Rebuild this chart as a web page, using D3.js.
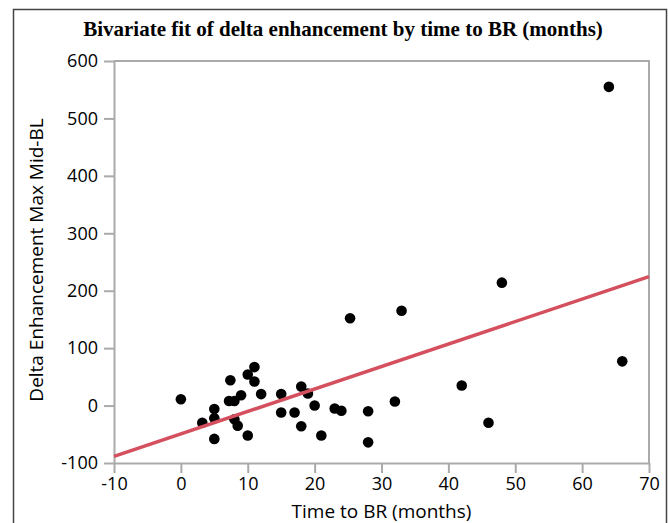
<!DOCTYPE html>
<html>
<head>
<meta charset="utf-8">
<script src="https://cdn.jsdelivr.net/npm/d3@7"></script>
<style>
  body { margin: 0; background: #fff; }
  svg text { fill: #000; }
</style>
</head>
<body>
<div id="chart"></div>
<script>
// Time to BR (months) vs delta enhancement
var timeToBR = [0, 3.2, 5, 5, 5, 7.4, 7.2, 8, 8, 8.5, 9, 10, 10, 11, 11, 12,
                15, 15, 17, 18, 18, 19, 20, 21, 23, 24, 25.3, 28, 28, 32, 33,
                42, 46, 48, 64, 66];
var deltaEnh = [11, -30, -6, -22, -58, 44, 8, 8, -24, -35, 18, 54, -52, 67, 42, 20,
                20, -12, -12, 33, -36, 21, 0, -52, -5, -9, 152, -10, -64, 7, 165,
                35, -30, 214, 555, 77];
var fitX = [-10, 70];
var fitY = [-88.5, 224.5];
var xTicks = [-10, 0, 10, 20, 30, 40, 50, 60, 70];
var yTicks = [-100, 0, 100, 200, 300, 400, 500, 600];

var W = 669, H = 523,
    pLeft = 114, pRight = 649, pTop = 61, pBottom = 463;

var svg = d3.select("#chart").append("svg")
    .attr("width", W).attr("height", H);

//---- outer frame
svg.append("rect")
    .attr("x", 13.5).attr("y", 9.5)
    .attr("width", 653).attr("height", 530)
    .attr("fill", "none").attr("stroke", "#444").attr("stroke-width", 1.5);

var x = d3.scaleLinear().domain([-10, 70]).range([pLeft, pRight]);
var y = d3.scaleLinear().domain([-100, 600]).range([pBottom, pTop]);

//---- plot box (top and right)
svg.append("path")
    .attr("d", "M" + pLeft + "," + pTop + "H" + pRight + "V" + pBottom)
    .attr("fill", "none").attr("stroke", "#aaa").attr("stroke-width", 2);

var axisFont = "'Open Sans', 'Noto Sans', sans-serif";
var fmt = function (d) { return String(d); };

var gx = svg.append("g").attr("transform", "translate(0," + pBottom + ")")
    .call(d3.axisBottom(x).tickValues(xTicks).tickFormat(fmt)
          .tickSize(10).tickSizeOuter(0).tickPadding(4));
var gy = svg.append("g").attr("transform", "translate(" + pLeft + ",0)")
    .call(d3.axisLeft(y).tickValues(yTicks).tickFormat(fmt)
          .tickSize(10).tickSizeOuter(0).tickPadding(6));

[gx, gy].forEach(function (g) {
  g.selectAll(".domain, line").attr("stroke", "#aaa").attr("stroke-width", 2);
  g.selectAll("text").attr("font-family", axisFont).attr("font-size", 18)
    .attr("fill", "#000");
});

//---- points
svg.append("g").selectAll("circle")
    .data(timeToBR)
    .join("circle")
    .attr("cx", function (d) { return x(d); })
    .attr("cy", function (d, i) { return y(deltaEnh[i]); })
    .attr("r", 5.3)
    .attr("fill", "#000");

//---- linear fit
svg.append("line")
    .attr("x1", x(fitX[0])).attr("y1", y(fitY[0]))
    .attr("x2", x(fitX[1])).attr("y2", y(fitY[1]))
    .attr("stroke", "#d5505e").attr("stroke-width", 3.5);

//---- titles
svg.append("text")
    .attr("x", 343).attr("y", 36)
    .attr("text-anchor", "middle")
    .attr("font-family", "'Liberation Serif', 'Times New Roman', serif")
    .attr("font-weight", "bold").attr("font-size", 21)
    .text("Bivariate fit of delta enhancement by time to BR (months)");

svg.append("text")
    .attr("x", (pLeft + pRight) / 2).attr("y", 518)
    .attr("text-anchor", "middle")
    .attr("font-family", axisFont).attr("font-size", 19)
    .text("Time to BR (months)");

svg.append("text")
    .attr("transform", "translate(43," + ((pTop + pBottom) / 2 - 2) + ") rotate(-90)")
    .attr("text-anchor", "middle")
    .attr("font-family", axisFont).attr("font-size", 19)
    .text("Delta Enhancement Max Mid-BL");
</script>
</body>
</html>
